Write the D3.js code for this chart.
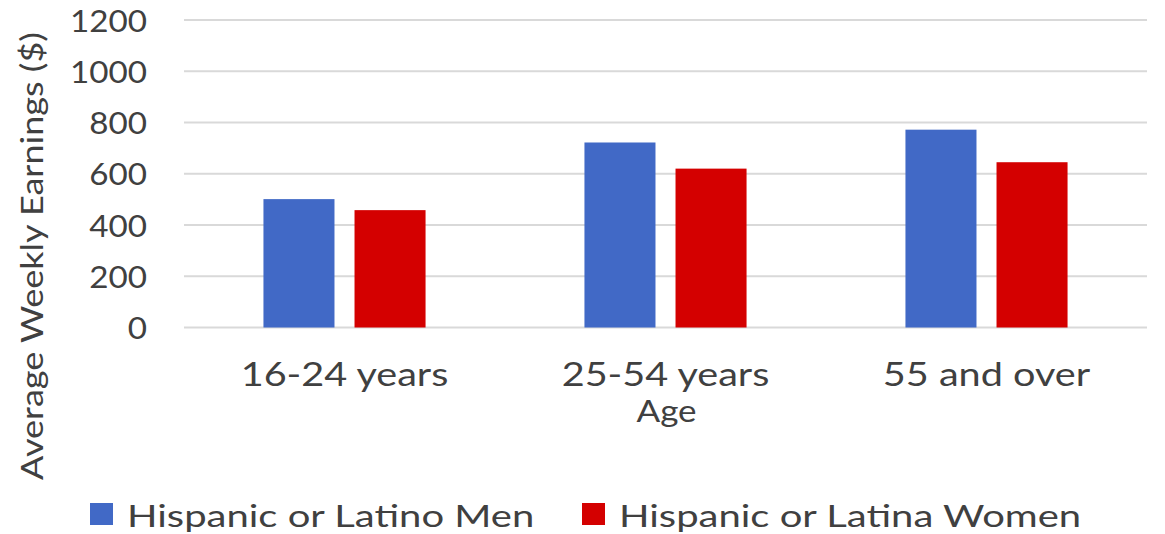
<!DOCTYPE html>
<html>
<head>
<meta charset="utf-8">
<script src="https://cdn.jsdelivr.net/npm/d3@7"></script>
<style>
  html, body { margin: 0; padding: 0; background: #ffffff; }
  svg { display: block; }
  text { font-family: Lato, "Open Sans", sans-serif; fill: #404040; }
</style>
</head>
<body>
<svg id="chart" width="1165" height="534"></svg>
<script>
// Average weekly earnings by age group
const ageGroups = ["16-24 years", "25-54 years", "55 and over"];
const seriesNames = ["Hispanic or Latino Men", "Hispanic or Latina Women"];
const menEarnings = [501, 722, 772];
const womenEarnings = [458, 620, 645];
const yTicks = [0, 200, 400, 600, 800, 1000, 1200];

const colors = ["#4169C6", "#D40000"];
const svg = d3.select("#chart");

const plot = { left: 184, right: 1147, top: 20, bottom: 327.5 };

const x0 = d3.scaleBand()
  .domain(ageGroups)
  .range([plot.left, plot.right])
  .paddingInner(0.495)
  .paddingOuter(0.2475);

const x1 = d3.scaleBand()
  .domain(seriesNames)
  .range([0, x0.bandwidth()])
  .paddingInner(0.22);

const y = d3.scaleLinear()
  .domain([0, 1200])
  .range([plot.bottom, plot.top]);

const color = d3.scaleOrdinal().domain(seriesNames).range(colors);

// Stretch a text element horizontally by a factor of its natural length
function stretch(sel, k) {
  sel.each(function () {
    const len = this.getComputedTextLength();
    d3.select(this).attr("textLength", len * k).attr("lengthAdjust", "spacingAndGlyphs");
  });
}

// Gridlines
svg.append("g")
  .selectAll("line")
  .data(yTicks)
  .join("line")
  .attr("x1", plot.left)
  .attr("x2", plot.right)
  .attr("y1", d => y(d))
  .attr("y2", d => y(d))
  .attr("stroke", "#d9d9d9")
  .attr("stroke-width", 2);

// Y axis tick labels
const yAxis = svg.append("g")
  .attr("transform", `translate(${plot.left - 37},0)`)
  .call(d3.axisLeft(y).tickValues(yTicks).tickFormat(d3.format("d")).tickSize(0).tickPadding(0));
yAxis.select(".domain").remove();
yAxis.selectAll("text")
  .attr("font-size", 31)
  .attr("font-family", "Lato, sans-serif")
  .attr("fill", "#404040")
  .attr("dy", "0.36em")
  .call(stretch, 1.07);

// Bars
const rows = ageGroups.map((g, i) => ({
  group: g,
  values: [
    { key: seriesNames[0], value: menEarnings[i] },
    { key: seriesNames[1], value: womenEarnings[i] }
  ]
}));

svg.append("g")
  .selectAll("g")
  .data(rows)
  .join("g")
  .attr("transform", d => `translate(${x0(d.group)},0)`)
  .selectAll("rect")
  .data(d => d.values)
  .join("rect")
  .attr("x", d => x1(d.key))
  .attr("width", x1.bandwidth())
  .attr("y", d => y(d.value))
  .attr("height", d => y(0) - y(d.value))
  .attr("fill", d => color(d.key));

// Category axis
const xAxis = svg.append("g")
  .attr("transform", `translate(0,${plot.bottom})`)
  .call(d3.axisBottom(x0).tickSize(0).tickPadding(0));
xAxis.select(".domain").remove();
xAxis.selectAll("text")
  .attr("font-size", 33)
  .attr("font-family", "Lato, sans-serif")
  .attr("fill", "#404040")
  .attr("dy", null)
  .attr("y", 58)
  .call(stretch, 1.2);

// Axis titles
svg.append("text")
  .attr("x", (plot.left + plot.right) / 2 + 1)
  .attr("y", 422)
  .attr("text-anchor", "middle")
  .attr("font-size", 31)
  .text("Age")
  .call(stretch, 1.13);

svg.append("text")
  .attr("transform", "translate(43,256) rotate(-90)")
  .attr("text-anchor", "middle")
  .attr("font-size", 30)
  .text("Average Weekly Earnings ($)")
  .call(stretch, 1.2);

// Legend
const legendX = [90, 582];
const legend = svg.append("g")
  .selectAll("g")
  .data(seriesNames)
  .join("g")
  .attr("transform", (d, i) => `translate(${legendX[i]},503)`);

legend.append("rect")
  .attr("width", 23)
  .attr("height", 22)
  .attr("fill", d => color(d));

legend.append("text")
  .attr("x", 37)
  .attr("y", 24)
  .attr("font-size", 31)
  .text(d => d)
  .call(stretch, 1.29);
</script>
</body>
</html>
